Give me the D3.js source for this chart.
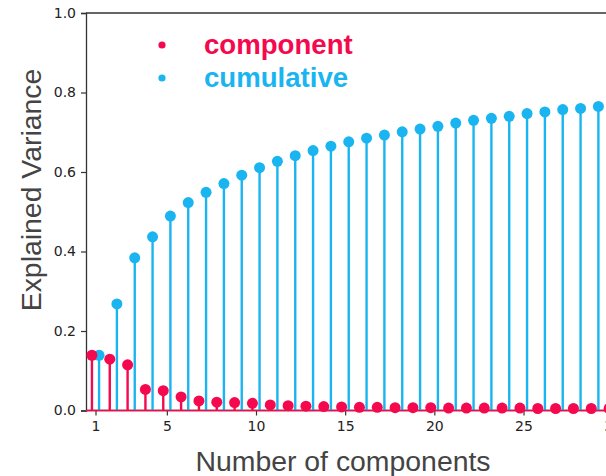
<!DOCTYPE html>
<html><head><meta charset="utf-8">
<script src="https://cdn.jsdelivr.net/npm/d3@7"></script>
<style>html,body{margin:0;padding:0;background:#fff;overflow:hidden}</style>
</head><body><svg id="c" width="606" height="476"></svg>
<script>
const components = d3.range(1, 31);
const componentVar = [0.139, 0.129, 0.115, 0.053, 0.050, 0.034, 0.024, 0.021, 0.020, 0.018,
  0.014, 0.012, 0.011, 0.010, 0.009, 0.008, 0.008, 0.007, 0.007, 0.007,
  0.006, 0.006, 0.006, 0.006, 0.006, 0.005, 0.005, 0.005, 0.005, 0.005];
const cumulativeVar = [0.139, 0.268, 0.384, 0.437, 0.489, 0.523, 0.549, 0.571, 0.592, 0.611,
  0.627, 0.641, 0.654, 0.665, 0.676, 0.685, 0.693, 0.701, 0.708, 0.715,
  0.723, 0.730, 0.735, 0.740, 0.747, 0.751, 0.757, 0.760, 0.765, 0.769];
const xTicks = [1, 5, 10, 15, 20, 25, 30];
const yTicks = [0, 0.2, 0.4, 0.6, 0.8, 1.0];
const legendLabels = ["component", "cumulative"];
const colors = {component: "#f5094e", cumulative: "#1ab5f0"};

const svg = d3.select("#c");
const plotLeft = 86, plotTop = 13, plotBottom = 410.5;
const x = d3.scaleLinear().domain([1, 25]).range([95.5, 523.5]);
const y = d3.scaleLinear().domain([0, 1]).range([plotBottom, plotTop]);
const xRightPx = 640;
const off = 0.2;

// top spine
svg.append("line").attr("x1", plotLeft).attr("x2", xRightPx).attr("y1", plotTop).attr("y2", plotTop)
  .attr("stroke", "#333").attr("stroke-width", 1.3);

// axes
const yAxis = svg.append("g").attr("transform", `translate(${plotLeft},0)`)
  .call(d3.axisLeft(y).tickValues(yTicks).tickFormat(d3.format(".1f")).tickSizeOuter(0).tickSize(5).tickPadding(5));
const xAxis = svg.append("g").attr("transform", `translate(0,${plotBottom})`)
  .call(d3.axisBottom(x).tickValues(xTicks).tickFormat(d3.format("d")).tickSizeOuter(0).tickSize(5).tickPadding(6));
[yAxis, xAxis].forEach(a => {
  a.select(".domain").attr("stroke", "#333").attr("stroke-width", 1.3);
  a.selectAll(".tick line").attr("stroke", "#333").attr("stroke-width", 1.2);
  a.selectAll(".tick text").attr("fill", "#222").style("font-family", "DejaVu Sans").style("font-size", "14px");
});
xAxis.select(".domain").attr("d", `M${plotLeft},0H${xRightPx}`);

// cumulative stems (drawn first)
const gC = svg.append("g");
gC.selectAll("line").data(components).join("line")
  .attr("x1", d => x(d + off)).attr("x2", d => x(d + off))
  .attr("y1", y(0)).attr("y2", (d, i) => y(cumulativeVar[i]))
  .attr("stroke", colors.cumulative).attr("stroke-width", 2.4);
gC.selectAll("circle").data(components).join("circle")
  .attr("cx", d => x(d + off)).attr("cy", (d, i) => y(cumulativeVar[i]))
  .attr("r", 5.5).attr("fill", colors.cumulative);

// component stems
const gP = svg.append("g");
gP.selectAll("line").data(components).join("line")
  .attr("x1", d => x(d - off)).attr("x2", d => x(d - off))
  .attr("y1", y(0)).attr("y2", (d, i) => y(componentVar[i]))
  .attr("stroke", colors.component).attr("stroke-width", 2.4);
svg.append("line").attr("x1", plotLeft).attr("x2", xRightPx).attr("y1", y(0)).attr("y2", y(0))
  .attr("stroke", colors.component).attr("stroke-width", 1.5);
gP.selectAll("circle").data(components).join("circle")
  .attr("cx", d => x(d - off)).attr("cy", (d, i) => y(componentVar[i]))
  .attr("r", 5.5).attr("fill", colors.component);

// legend
const leg = svg.append("g");
legendLabels.forEach((lab, i) => {
  leg.append("circle").attr("cx", 162).attr("cy", 45 + i * 33).attr("r", 3.6).attr("fill", colors[lab]);
  leg.append("text").attr("x", 204).attr("y", 54 + i * 32.5).text(lab)
    .attr("fill", colors[lab]).style("font-family", "Liberation Sans, Arial, sans-serif")
    .style("font-weight", "bold").style("font-size", "27.6px");
});

// axis titles
svg.append("text").attr("x", 343).attr("y", 471).attr("text-anchor", "middle")
  .text("Number of components").attr("fill", "#444")
  .style("font-family", "Liberation Sans, Arial, sans-serif").style("font-size", "28.4px");
svg.append("text").attr("transform", "translate(41,190) rotate(-90)").attr("text-anchor", "middle")
  .text("Explained Variance").attr("fill", "#444")
  .style("font-family", "Liberation Sans, Arial, sans-serif").style("font-size", "28.4px");
</script></body></html>
